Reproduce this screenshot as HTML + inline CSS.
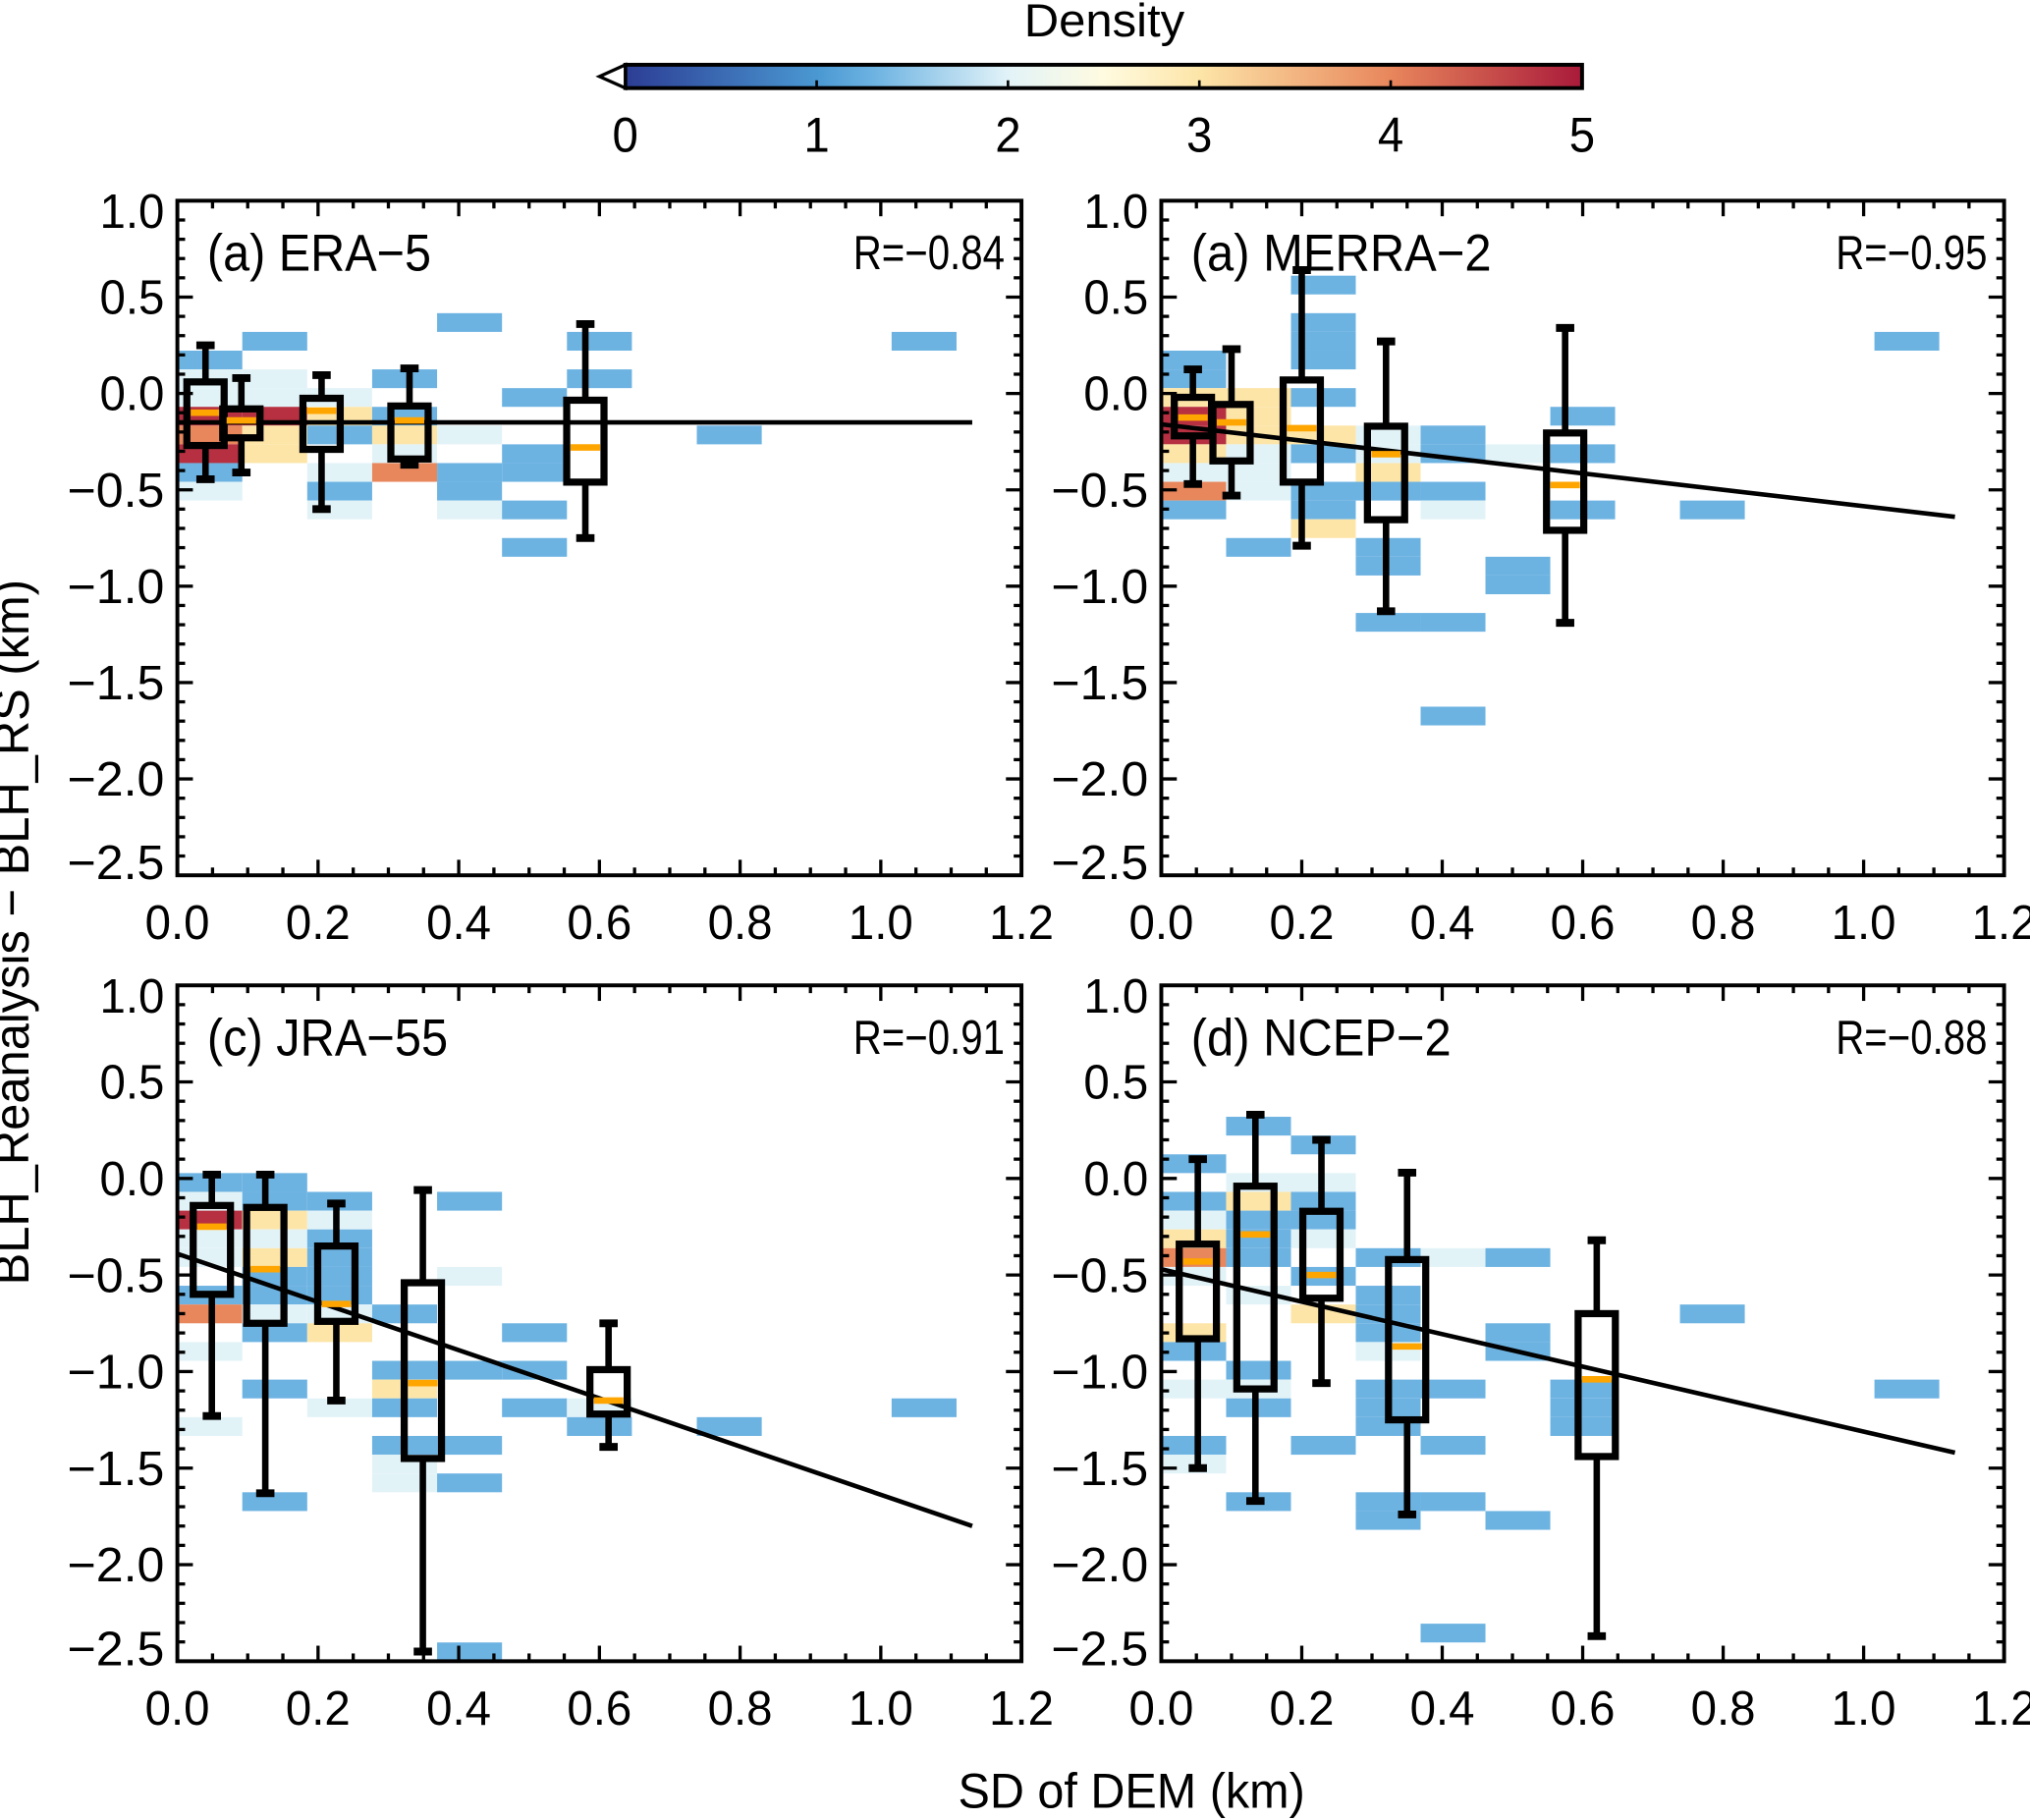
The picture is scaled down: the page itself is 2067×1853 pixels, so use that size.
<!DOCTYPE html>
<html><head><meta charset="utf-8">
<style>
html,body{margin:0;padding:0;background:#fff;}
svg{display:block;}
text{font-family:"Liberation Sans",sans-serif;fill:#000;}
</style></head>
<body>
<svg id="fig" xmlns="http://www.w3.org/2000/svg" width="2067" height="1853" viewBox="0 0 1568 1405.6">
<defs>
<linearGradient id="cbgrad" x1="0" x2="1" y1="0" y2="0">
<stop offset="0" stop-color="#2c3d94"/>
<stop offset="0.2" stop-color="#4a98d2"/>
<stop offset="0.26" stop-color="#6db3e2"/>
<stop offset="0.4" stop-color="#e2f3f8"/>
<stop offset="0.5" stop-color="#fffbe0"/>
<stop offset="0.6" stop-color="#fde5a8"/>
<stop offset="0.8" stop-color="#e8865c"/>
<stop offset="1" stop-color="#a91a3a"/>
</linearGradient>
</defs>
<text x="853" y="28" text-anchor="middle" font-size="36" textLength="124" lengthAdjust="spacingAndGlyphs">Density</text>
<rect x="483" y="50" width="739" height="18" fill="url(#cbgrad)" stroke="#000" stroke-width="3"/>
<polygon points="463,59 483,50 483,68" fill="#fff" stroke="#000" stroke-width="2.5"/>
<g id="cbticks"></g>
<text x="22" y="720" text-anchor="middle" font-size="38" transform="rotate(-90 22 720)" textLength="545" lengthAdjust="spacingAndGlyphs">BLH_Reanalysis − BLH_RS (km)</text>
<text x="874" y="1396" text-anchor="middle" font-size="38" textLength="268" lengthAdjust="spacingAndGlyphs">SD of DEM (km)</text>
<g id="panels"></g>
</svg>
<script>
// colorbar data
const cbTicks = [0,1,2,3,4,5];
// density classes
const B=1.3, L=2.0, Y=3.0, O=4.0, R=4.8;
// fit-line x extent
const fitX = [0, 1.13];

// Panel (a) ERA-5
const eraCells = [[0,8,B],[0,9,L],[0,10,L],[0,11,R],[0,12,O],[0,13,R],[0,14,B],[0,15,L],
 [1,7,B],[1,9,L],[1,10,L],[1,11,R],[1,12,Y],[1,13,Y],
 [2,10,L],[2,11,Y],[2,12,B],[2,14,L],[2,15,B],[2,16,L],
 [3,9,B],[3,11,B],[3,12,Y],[3,13,L],[3,14,O],
 [4,6,B],[4,12,L],[4,14,B],[4,15,B],[4,16,L],
 [5,10,B],[5,13,B],[5,14,B],[5,16,B],[5,18,B],
 [6,7,B],[6,9,B],[8,12,B],[11,7,B]];
const eraBoxX = [0.04,0.091,0.205,0.33,0.58];
const eraWhiskerHi = [0.25,0.08,0.095,0.13,0.36];
const eraQ3 = [0.06,-0.08,-0.025,-0.065,-0.035];
const eraMedian = [-0.1,-0.14,-0.09,-0.14,-0.28];
const eraQ1 = [-0.27,-0.23,-0.29,-0.34,-0.46];
const eraWhiskerLo = [-0.445,-0.41,-0.6,-0.37,-0.75];
const eraFit = [-0.15,-0.15];

// Panel (b) MERRA-2
const merraCells = [[0,8,B],[0,9,B],[0,10,Y],[0,11,R],[0,12,R],[0,13,Y],[0,14,L],[0,15,O],[0,16,B],
 [1,10,Y],[1,11,Y],[1,12,Y],[1,13,L],[1,14,L],[1,15,L],[1,18,B],
 [2,4,B],[2,6,B],[2,7,B],[2,8,B],[2,10,B],[2,12,Y],[2,13,B],[2,15,B],[2,16,B],[2,17,Y],
 [3,12,L],[3,13,L],[3,14,Y],[3,15,B],[3,18,B],[3,19,B],[3,22,B],
 [4,12,B],[4,13,B],[4,15,B],[4,16,L],[4,22,B],[4,27,B],
 [5,13,L],[5,19,B],[5,20,B],
 [6,11,B],[6,13,B],[6,16,B],[8,16,B],[11,7,B]];
const merraBoxX = [0.045,0.10,0.2,0.32,0.575];
const merraWhiskerHi = [0.125,0.23,0.64,0.27,0.34];
const merraQ3 = [-0.02,-0.057,0.07,-0.17,-0.205];
const merraMedian = [-0.125,-0.15,-0.18,-0.315,-0.475];
const merraQ1 = [-0.22,-0.35,-0.46,-0.655,-0.71];
const merraWhiskerLo = [-0.47,-0.53,-0.79,-1.13,-1.19];
const merraFit = [-0.16,-0.64];

// Panel (c) JRA-55
const jraCells = [[0,10,B],[0,11,L],[0,12,R],[0,13,L],[0,14,L],[0,16,B],[0,17,O],[0,19,L],[0,23,L],
 [1,10,B],[1,11,B],[1,12,Y],[1,13,L],[1,14,Y],[1,15,B],[1,16,B],[1,17,L],[1,18,B],[1,21,B],[1,27,B],
 [2,11,B],[2,12,L],[2,13,B],[2,14,B],[2,15,B],[2,16,B],[2,17,L],[2,18,Y],[2,22,L],
 [3,17,B],[3,20,B],[3,21,Y],[3,22,B],[3,24,B],[3,25,L],[3,26,L],
 [4,11,B],[4,15,L],[4,20,B],[4,24,B],[4,26,B],[4,35,B],
 [5,18,B],[5,20,B],[5,22,B],
 [6,22,L],[6,23,B],[8,23,B],[11,22,B]];
const jraBoxX = [0.049,0.125,0.226,0.349,0.613];
const jraWhiskerHi = [0.02,0.02,-0.13,-0.06,-0.75];
const jraQ3 = [-0.14,-0.15,-0.35,-0.54,-0.99];
const jraMedian = [-0.25,-0.47,-0.65,-1.06,-1.15];
const jraQ1 = [-0.6,-0.75,-0.74,-1.45,-1.22];
const jraWhiskerLo = [-1.23,-1.63,-1.15,-2.45,-1.39];
const jraFit = [-0.39,-1.80];

// Panel (d) NCEP-2
const ncepCells = [[0,9,B],[0,11,B],[0,12,L],[0,13,Y],[0,14,O],[0,15,L],[0,18,Y],[0,19,B],[0,21,L],[0,24,B],[0,25,L],
 [1,7,B],[1,10,L],[1,11,Y],[1,12,B],[1,13,B],[1,14,B],[1,16,L],[1,20,B],[1,21,L],[1,22,B],[1,27,B],
 [2,8,B],[2,10,L],[2,11,B],[2,12,B],[2,13,L],[2,15,B],[2,17,Y],[2,24,B],
 [3,14,B],[3,16,B],[3,17,B],[3,18,B],[3,19,L],[3,21,B],[3,22,B],[3,23,B],[3,27,B],[3,28,B],
 [4,14,L],[4,21,B],[4,24,B],[4,27,B],[4,34,B],
 [5,14,B],[5,18,B],[5,19,B],[5,28,B],
 [6,21,B],[6,22,B],[6,23,B],[8,17,B],[11,21,B]];
const ncepBoxX = [0.052,0.134,0.228,0.35,0.62];
const ncepWhiskerHi = [0.1,0.33,0.2,0.03,-0.32];
const ncepQ3 = [-0.34,-0.04,-0.17,-0.42,-0.70];
const ncepMedian = [-0.43,-0.29,-0.5,-0.87,-1.04];
const ncepQ1 = [-0.83,-1.09,-0.62,-1.25,-1.44];
const ncepWhiskerLo = [-1.5,-1.67,-1.06,-1.74,-2.37];
const ncepFit = [-0.47,-1.42];

const NS='http://www.w3.org/2000/svg';
function mk(tag, attrs, parent){const e=document.createElementNS(NS,tag);for(const k in attrs)e.setAttribute(k,attrs[k]);parent.appendChild(e);return e;}

const cbg=document.getElementById('cbticks');
const cbX = v => 483 + v/5*739;
cbTicks.forEach(v=>{
  const t=mk('line',{x1:cbX(v),x2:cbX(v),y1:62,y2:68,stroke:'#000','stroke-width':2},cbg);
  
  
  const l=mk('text',{x:cbX(v),y:117,'text-anchor':'middle','font-size':38,textLength:20,lengthAdjust:'spacingAndGlyphs'},cbg);
  
  
  l.textContent=String(v);
});

const stops=[[0,[44,61,148]],[1,[74,152,210]],[1.3,[109,179,226]],[2,[226,243,248]],[3,[253,229,168]],[4,[232,134,92]],[5,[169,26,58]]];
function dcolor(d){for(let i=1;i<stops.length;i++){if(d<=stops[i][0]){const a=stops[i-1],b=stops[i];const t=(d-a[0])/(b[0]-a[0]);const c=a[1].map((v,j)=>Math.round(v+(b[1][j]-v)*t));return 'rgb('+c.join(',')+')';}}return 'rgb(169,26,58)';}

const panels=[
 {key:'era5',L:137,R:789,T:155,B:676,title:'(a) ERA−5',tw:173,r:'R=−0.84',cells:eraCells,bx:eraBoxX,wh:eraWhiskerHi,q3:eraQ3,md:eraMedian,q1:eraQ1,wl:eraWhiskerLo,fit:eraFit},
 {key:'merra2',L:897,R:1548,T:155,B:676,title:'(a) MERRA−2',tw:232,r:'R=−0.95',cells:merraCells,bx:merraBoxX,wh:merraWhiskerHi,q3:merraQ3,md:merraMedian,q1:merraQ1,wl:merraWhiskerLo,fit:merraFit},
 {key:'jra55',L:137,R:789,T:761,B:1283,title:'(c) JRA−55',tw:186,r:'R=−0.91',cells:jraCells,bx:jraBoxX,wh:jraWhiskerHi,q3:jraQ3,md:jraMedian,q1:jraQ1,wl:jraWhiskerLo,fit:jraFit},
 {key:'ncep2',L:897,R:1548,T:761,B:1283,title:'(d) NCEP−2',tw:201,r:'R=−0.88',cells:ncepCells,bx:ncepBoxX,wh:ncepWhiskerHi,q3:ncepQ3,md:ncepMedian,q1:ncepQ1,wl:ncepWhiskerLo,fit:ncepFit}
];
const root=document.getElementById('panels');
const colW=1.2/13, rowH=3.5/36;
panels.forEach(p=>{
  const g=mk('g',{},root);
  
  
  const sx=v=>p.L+v/1.2*(p.R-p.L);
  const sy=v=>p.T+(1-v)/3.5*(p.B-p.T);
  p.cells.forEach(c=>{
    const x0=sx(c[0]*colW), x1=sx((c[0]+1)*colW);
    const y0=sy(1-c[1]*rowH), y1=sy(1-(c[1]+1)*rowH);
    const r=mk('rect',{x:x0,y:y0,width:x1-x0,height:y1-y0,fill:dcolor(c[2])},g);
    
    
  });
  const fl=mk('line',{x1:sx(fitX[0]),y1:sy(p.fit[0]),x2:sx(fitX[1]),y2:sy(p.fit[1]),stroke:'#000','stroke-width':3.5},g);
  
  
  const hw=0.0265, cw=0.013;
  p.bx.forEach((x,i)=>{
    const bg=mk('g',{},g);
    
    
    mk('line',{x1:sx(x),x2:sx(x),y1:sy(p.wh[i]),y2:sy(p.q3[i]),stroke:'#000','stroke-width':5},bg);
    mk('line',{x1:sx(x),x2:sx(x),y1:sy(p.q1[i]),y2:sy(p.wl[i]),stroke:'#000','stroke-width':5},bg);
    mk('line',{x1:sx(x-cw),x2:sx(x+cw),y1:sy(p.wh[i]),y2:sy(p.wh[i]),stroke:'#000','stroke-width':6},bg);
    mk('line',{x1:sx(x-cw),x2:sx(x+cw),y1:sy(p.wl[i]),y2:sy(p.wl[i]),stroke:'#000','stroke-width':6},bg);
    mk('rect',{x:sx(x-hw),y:sy(p.q3[i]),width:sx(x+hw)-sx(x-hw),height:sy(p.q1[i])-sy(p.q3[i]),fill:'none',stroke:'#000','stroke-width':5.5},bg);
    mk('line',{x1:sx(x-hw)+3,x2:sx(x+hw)-3,y1:sy(p.md[i]),y2:sy(p.md[i]),stroke:'#ffa500','stroke-width':5},bg);
  });
  const fr=mk('rect',{x:p.L,y:p.T,width:p.R-p.L,height:p.B-p.T,fill:'none',stroke:'#000','stroke-width':3},g);
  
  
  for(let k=0;k<=24;k++){
    const v=k*0.05, X=sx(v), len=(k%4===0)?12:6;
    mk('line',{x1:X,x2:X,y1:p.B,y2:p.B-len,stroke:'#000','stroke-width':2.5},g);
    mk('line',{x1:X,x2:X,y1:p.T,y2:p.T+len,stroke:'#000','stroke-width':2.5},g);
    if(k%4===0){
      const t=mk('text',{x:X,y:p.B+49,'text-anchor':'middle','font-size':37,textLength:50,lengthAdjust:'spacingAndGlyphs'},g);
      
      
      t.textContent=v.toFixed(1);
    }
  }
  for(let k=0;k<=35;k++){
    const v=1-k*0.1, Yp=sy(v), len=(k%5===0)?12:6;
    mk('line',{x1:p.L,x2:p.L+len,y1:Yp,y2:Yp,stroke:'#000','stroke-width':2.5},g);
    mk('line',{x1:p.R,x2:p.R-len,y1:Yp,y2:Yp,stroke:'#000','stroke-width':2.5},g);
    if(k%5===0){
      let cy=Yp; if(k===0)cy+=8; if(k===35)cy-=10;
      const s=(Math.abs(v)<1e-9?'0.0':(v<0?'−':'')+Math.abs(v).toFixed(1));
      const t=mk('text',{x:p.L-10,y:cy+13,'text-anchor':'end','font-size':37,textLength:(v<-1e-9?75:50),lengthAdjust:'spacingAndGlyphs'},g);
      
      
      t.textContent=s;
    }
  }
  const tt=mk('text',{x:p.L+23,y:p.T+54,'font-size':40,textLength:p.tw,lengthAdjust:'spacingAndGlyphs'},g);
  
  
  tt.textContent=p.title;
  const rt=mk('text',{x:p.R-13,y:p.T+53,'text-anchor':'end','font-size':37,textLength:117,lengthAdjust:'spacingAndGlyphs'},g);
  
  
  rt.textContent=p.r;
});
</script>
</body></html>
